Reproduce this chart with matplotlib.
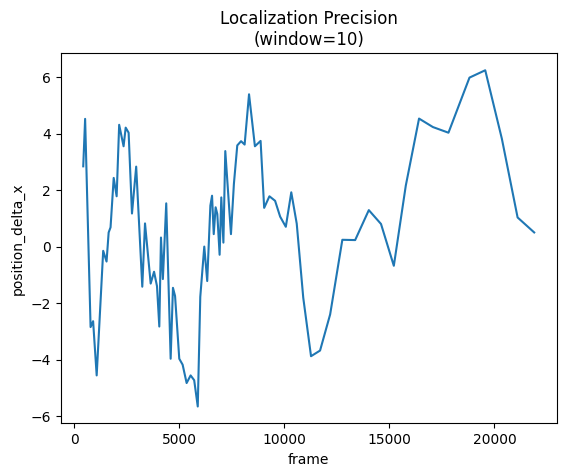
import matplotlib
matplotlib.use("Agg")
import matplotlib.pyplot as plt

# frame numbers and rolling-mean delta x
frame = [430, 520, 780, 900, 1070, 1380, 1540, 1640, 1730, 1880,
         2020, 2140, 2350, 2450, 2590, 2750, 2950, 3240, 3370, 3640,
         3800, 3940, 4050, 4130, 4220, 4380, 4590, 4700, 4800, 5000,
         5160, 5350, 5540, 5710, 5880, 6000, 6190, 6330, 6480, 6560,
         6640, 6730, 6810, 6920, 7000, 7100, 7190, 7460, 7600, 7760,
         7940, 8110, 8320, 8600, 8870, 9040, 9290, 9560, 9800, 10070,
         10330, 10590, 10900, 11270, 11700, 12180, 12760, 13370, 14020, 14600,
         15210, 15780, 16410, 17070, 17810, 18810, 19560, 20350, 21100, 21890]
delta_x = [2.85, 4.53, -2.84, -2.63, -4.55, -0.14, -0.52, 0.51, 0.69, 2.44,
           1.79, 4.32, 3.56, 4.22, 4.04, 1.18, 2.84, -1.41, 0.83, -1.30,
           -0.88, -1.39, -2.82, 0.33, -1.14, 1.54, -3.96, -1.45, -1.74, -3.96,
           -4.17, -4.82, -4.55, -4.72, -5.65, -1.77, 0.01, -1.21, 1.46, 1.81,
           0.45, 1.40, 1.16, -0.28, 1.75, 0.15, 3.39, 0.45, 2.23, 3.59,
           3.74, 3.62, 5.40, 3.56, 3.75, 1.38, 1.79, 1.63, 1.07, 0.71,
           1.93, 0.82, -1.80, -3.87, -3.67, -2.39, 0.25, 0.24, 1.30, 0.81,
           -0.67, 2.17, 4.54, 4.24, 4.04, 5.99, 6.25, 3.83, 1.04, 0.51]

fig = plt.figure(figsize=(5.65, 4.76), dpi=100)
ax = fig.add_axes([0.1074, 0.1107, 0.878, 0.777])

ax.plot(frame, delta_x)

ax.set_title("Localization Precision\n(window=10)")
ax.set_xlabel("frame")
ax.set_ylabel("position_delta_x")

fig.savefig("out.png", dpi=100)
